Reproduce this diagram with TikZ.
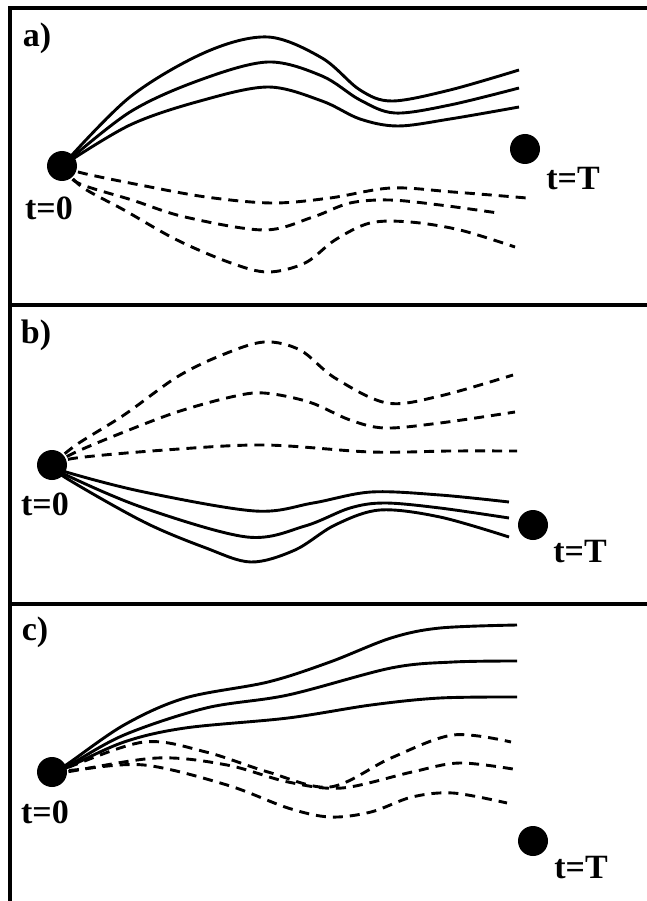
\documentclass[tikz,border=0pt]{standalone}
\usepackage{fontspec}
\setmainfont{Liberation Serif}
\begin{document}
\begin{tikzpicture}[x=1pt,y=-1pt,
  frame/.style={line width=4pt},
  traj/.style={line width=2.9pt, smooth, tension=0.55},
  dtraj/.style={line width=2.9pt, smooth, tension=0.55, dash pattern=on 10pt off 7pt},
  dot/.style={circle, fill=black, inner sep=0pt, minimum width=28pt, minimum height=30pt},
  lbl/.style={font=\fontsize{34}{34}\selectfont\bfseries, inner sep=0pt},
  plbl/.style={font=\fontsize{34}{34}\selectfont\bfseries, inner sep=0pt}]
\useasboundingbox (0,0) rectangle (646,901);
\fill[white] (0,0) rectangle (646,901);
% frames
\draw[frame] (10,901) -- (10,8) -- (660,8);
\draw[frame] (10,305) -- (660,305);
\draw[frame] (10,604) -- (660,604);

% ---------- panel a ----------
\coordinate (sa) at (62,166);
\draw[traj] plot coordinates {(sa) (130,97) (206,52) (268,37) (322,58) (360,90) (392,101) (450,90) (519,70)};
\draw[traj] plot coordinates {(sa) (130,112) (200,80) (268,62) (322,76) (360,100) (395,113) (450,105) (519,88)};
\draw[traj] plot coordinates {(sa) (130,125) (200,101) (268,87) (322,101) (360,119) (398,126) (450,119) (519,107)};
\draw[dtraj] plot coordinates {(sa) (82,173) (140,185) (206,197) (272,203) (330,198) (391,188) (453,192) (527,198)};
\draw[dtraj] plot coordinates {(sa) (78,183) (132,200) (185,217) (264,230) (313,217) (350,203) (390,200) (440,205) (498,213)};
\draw[dtraj] plot coordinates {(sa) (82,187) (124,210) (177,240) (231,263) (268,272) (305,263) (335,240) (370,223) (410,222) (460,230) (515,247)};
\node[dot] (a0) at (sa) {};
\node[dot] (aT) at (525,149) {};
\node[lbl] (a0t) at (49,208) {t=0};
\node[lbl] (aTt) at (573,179) {t=T};
\node[plbl] (la) at (37,38) {a)};

% ---------- panel b ----------
\coordinate (sb) at (52,465);
\draw[dtraj] plot coordinates {(sb) (76,445) (124,415) (177,377) (222,355) (264,342) (300,350) (335,378) (387,403) (440,396) (513,375)};
\draw[dtraj] plot coordinates {(sb) (76,452) (124,432) (177,412) (231,397) (264,393) (309,402) (350,420) (385,428) (440,423) (515,412)};
\draw[dtraj] plot coordinates {(sb) (76,458) (165,450) (264,445) (371,452) (450,451) (517,451)};
\draw[traj] plot coordinates {(sb) (66,472) (144,492) (255,511) (313,503) (371,492) (440,495) (509,502)};
\draw[traj] plot coordinates {(sb) (66,475) (144,508) (247,537) (305,526) (350,508) (385,503) (440,508) (509,518)};
\draw[traj] plot coordinates {(sb) (66,478) (144,522) (206,548) (251,562) (295,550) (335,525) (380,510) (440,517) (509,537)};
\node[dot] (b0) at (sb) {};
\node[dot] (bT) at (533,525) {};
\node[lbl] (b0t) at (45,504) {t=0};
\node[lbl] (bTt) at (580,552) {t=T};
\node[plbl] (lb) at (36,335) {b)};

% ---------- panel c ----------
\coordinate (sc) at (52,772);
\draw[traj] plot coordinates {(sc) (66,765) (124,725) (185,698) (268,682) (330,662) (391,638) (440,628) (517,625)};
\draw[traj] plot coordinates {(sc) (66,767) (124,735) (206,708) (288,695) (391,668) (453,662) (517,661)};
\draw[traj] plot coordinates {(sc) (66,768) (124,742) (185,728) (288,718) (371,705) (440,698) (517,697)};
\draw[dtraj] plot coordinates {(sc) (66,768) (144,742) (206,752) (268,772) (330,787) (391,758) (453,735) (511,742)};
\draw[dtraj] plot coordinates {(sc) (66,772) (157,758) (227,765) (288,782) (342,788) (412,772) (460,763) (519,770)};
\draw[dtraj] plot coordinates {(sc) (74,770) (144,765) (227,785) (288,808) (330,817) (371,812) (412,797) (453,793) (507,803)};
\node[dot] (c0) at (sc) {};
\node[dot] (cT) at (533,841) {};
\node[lbl] (c0t) at (45,812) {t=0};
\node[lbl] (cTt) at (581,868) {t=T};
\node[plbl] (lc) at (35,632) {c)};
\end{tikzpicture}
\end{document}
